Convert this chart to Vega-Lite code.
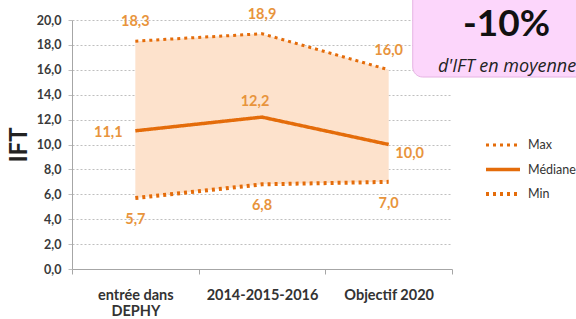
{
  "$schema": "https://vega.github.io/schema/vega-lite/v6.json",
  "autosize": {"type": "none"},
  "width": 380,
  "height": 249,
  "padding": {"left": 72, "top": 20, "right": 124, "bottom": 50},
  "background": "white",
  "config": {
    "font": "Lato",
    "view": {"stroke": null},
    "locale": {"number": {"decimal": ",", "thousands": " ", "grouping": [3], "currency": ["", " €"]}},
    "axisY": {
      "format": ".1f",
      "labelOverlap": false,
      "labelFont": "Lato",
      "labelFontWeight": "bold",
      "labelFontSize": 12.5,
      "labelColor": "#3a3a3a",
      "labelPadding": 7,
      "tickSize": 4,
      "tickColor": "#bfbfbf",
      "domainColor": "#a6a6a6",
      "grid": true,
      "gridColor": "#bfbfbf",
      "gridDash": [2, 2],
      "titleFont": "Lato",
      "titleFontSize": 24,
      "titleFontWeight": "bold",
      "titleColor": "#222222",
      "titlePadding": 5
    }
  },
  "data": {
    "values": [
      {"etape": "entrée dans DEPHY", "serie": "Max", "valeur": 18.3},
      {"etape": "2014-2015-2016", "serie": "Max", "valeur": 18.9},
      {"etape": "Objectif 2020", "serie": "Max", "valeur": 16.0},
      {"etape": "entrée dans DEPHY", "serie": "Médiane", "valeur": 11.1},
      {"etape": "2014-2015-2016", "serie": "Médiane", "valeur": 12.2},
      {"etape": "Objectif 2020", "serie": "Médiane", "valeur": 10.0},
      {"etape": "entrée dans DEPHY", "serie": "Min", "valeur": 5.7},
      {"etape": "2014-2015-2016", "serie": "Min", "valeur": 6.8},
      {"etape": "Objectif 2020", "serie": "Min", "valeur": 7.0}
    ]
  },
  "resolve": {"scale": {"x": "independent"}},
  "layer": [
    {
      "encoding": {
        "x": {
          "field": "etape",
          "type": "nominal",
          "sort": ["entrée dans DEPHY", "2014-2015-2016", "Objectif 2020"],
          "bandPosition": 0.5,
          "scale": {"type": "band", "paddingInner": 0, "paddingOuter": 0},
          "axis": {
            "title": null,
            "labelAngle": 0,
            "labelFont": "Lato",
            "labelFontWeight": "bold",
            "labelFontSize": 14.5,
            "labelColor": "#333333",
            "labelLineHeight": 16,
            "labelPadding": 14,
            "labelExpr": "datum.value == 'entrée dans DEPHY' ? ['entrée dans', 'DEPHY'] : datum.value",
            "tickBand": "extent",
            "tickSize": 5,
            "tickColor": "#a6a6a6",
            "domainColor": "#a6a6a6",
            "grid": false
          }
        }
      },
      "layer": [
        {
          "transform": [{"pivot": "serie", "value": "valeur", "groupby": ["etape"]}],
          "mark": {"type": "area", "color": "#fde2cc", "opacity": 1},
          "encoding": {
            "y": {
              "field": "Min",
              "type": "quantitative",
              "scale": {"domain": [0, 20], "nice": false},
              "axis": {"title": "IFT", "values": [0, 2, 4, 6, 8, 10, 12, 14, 16, 18, 20]}
            },
            "y2": {"field": "Max"}
          }
        },
        {
          "mark": {"type": "line"},
          "encoding": {
            "y": {"field": "valeur", "type": "quantitative", "axis": {"title": "IFT", "values": [0, 2, 4, 6, 8, 10, 12, 14, 16, 18, 20]}},
            "color": {"value": "#E46C0A"},
            "strokeDash": {
              "field": "serie",
              "type": "nominal",
              "scale": {"domain": ["Max", "Médiane", "Min"], "range": [[3, 4], [1, 0], [3, 4]]},
              "legend": {
                "title": null,
                "orient": "none",
                "legendX": 412,
                "legendY": 117,
                "symbolType": "stroke",
                "symbolSize": 1156,
                "symbolStrokeColor": "#E46C0A",
                "clipHeight": 16,
                "rowPadding": 8.5,
                "labelFont": "Lato",
                "labelFontSize": 12.5,
                "labelColor": "#333333",
                "labelOffset": 6,
                "padding": 0
              }
            },
            "strokeWidth": {
              "field": "serie",
              "type": "nominal",
              "scale": {"domain": ["Max", "Médiane", "Min"], "range": [3, 4, 3]},
              "legend": {
                "title": null,
                "orient": "none",
                "legendX": 412,
                "legendY": 117,
                "symbolType": "stroke",
                "symbolSize": 1156,
                "symbolStrokeColor": "#E46C0A",
                "clipHeight": 16,
                "rowPadding": 8.5,
                "labelFont": "Lato",
                "labelFontSize": 12.5,
                "labelColor": "#333333",
                "labelOffset": 6,
                "padding": 0
              }
            }
          }
        },
        {
          "transform": [{"filter": "datum.serie == 'Max'"}],
          "mark": {"type": "text", "dy": -19, "fontWeight": "bold", "fontSize": 14.5, "color": "#E8943C", "baseline": "middle"},
          "encoding": {
            "y": {"field": "valeur", "type": "quantitative", "axis": {"title": "IFT", "values": [0, 2, 4, 6, 8, 10, 12, 14, 16, 18, 20]}},
            "text": {"field": "valeur", "type": "quantitative", "format": ".1f"}
          }
        },
        {
          "transform": [{"filter": "datum.serie == 'Min'"}],
          "mark": {"type": "text", "dy": 22, "fontWeight": "bold", "fontSize": 14.5, "color": "#E8943C", "baseline": "middle"},
          "encoding": {
            "y": {"field": "valeur", "type": "quantitative", "axis": {"title": "IFT", "values": [0, 2, 4, 6, 8, 10, 12, 14, 16, 18, 20]}},
            "text": {"field": "valeur", "type": "quantitative", "format": ".1f"}
          }
        },
        {
          "transform": [{"filter": "datum.serie == 'Médiane' && datum.etape == 'entrée dans DEPHY'"}],
          "mark": {"type": "text", "dx": -27, "dy": 2, "fontWeight": "bold", "fontSize": 14.5, "color": "#E8943C", "baseline": "middle"},
          "encoding": {
            "y": {"field": "valeur", "type": "quantitative", "axis": {"title": "IFT", "values": [0, 2, 4, 6, 8, 10, 12, 14, 16, 18, 20]}},
            "text": {"field": "valeur", "type": "quantitative", "format": ".1f"}
          }
        },
        {
          "transform": [{"filter": "datum.serie == 'Médiane' && datum.etape == '2014-2015-2016'"}],
          "mark": {"type": "text", "dx": -7, "dy": -15, "fontWeight": "bold", "fontSize": 14.5, "color": "#E8943C", "baseline": "middle"},
          "encoding": {
            "y": {"field": "valeur", "type": "quantitative", "axis": {"title": "IFT", "values": [0, 2, 4, 6, 8, 10, 12, 14, 16, 18, 20]}},
            "text": {"field": "valeur", "type": "quantitative", "format": ".1f"}
          }
        },
        {
          "transform": [{"filter": "datum.serie == 'Médiane' && datum.etape == 'Objectif 2020'"}],
          "mark": {"type": "text", "dx": 21, "dy": 9, "fontWeight": "bold", "fontSize": 14.5, "color": "#E8943C", "baseline": "middle"},
          "encoding": {
            "y": {"field": "valeur", "type": "quantitative", "axis": {"title": "IFT", "values": [0, 2, 4, 6, 8, 10, 12, 14, 16, 18, 20]}},
            "text": {"field": "valeur", "type": "quantitative", "format": ".1f"}
          }
        }
      ]
    },
    {
      "data": {"values": [{}]},
      "layer": [
        {
          "mark": {"type": "rect", "fill": "#fcd6fb", "stroke": "#e6b3e3", "strokeWidth": 1, "cornerRadius": 10, "clip": false},
          "encoding": {
            "x": {"datum": 2.69, "type": "quantitative", "scale": {"domain": [0, 3], "nice": false, "zero": false}, "axis": null},
            "x2": {"datum": 4.6},
            "y": {"datum": 15.42, "type": "quantitative", "axis": {"title": "IFT", "values": [0, 2, 4, 6, 8, 10, 12, 14, 16, 18, 20]}},
            "y2": {"datum": 23}
          }
        },
        {
          "mark": {"type": "text", "text": "-10%", "fontSize": 37, "fontWeight": "bold", "color": "#111111", "align": "center", "baseline": "alphabetic"},
          "encoding": {
            "x": {"datum": 3.43, "type": "quantitative"},
            "y": {"datum": 18.75, "type": "quantitative", "axis": {"title": "IFT", "values": [0, 2, 4, 6, 8, 10, 12, 14, 16, 18, 20]}}
          }
        },
        {
          "mark": {"type": "text", "text": "d'IFT en moyenne", "font": "Open Sans", "fontSize": 18, "fontStyle": "italic", "color": "#222222", "align": "left", "baseline": "alphabetic"},
          "encoding": {
            "x": {"datum": 2.889, "type": "quantitative"},
            "y": {"datum": 15.82, "type": "quantitative", "axis": {"title": "IFT", "values": [0, 2, 4, 6, 8, 10, 12, 14, 16, 18, 20]}}
          }
        }
      ]
    }
  ]
}
